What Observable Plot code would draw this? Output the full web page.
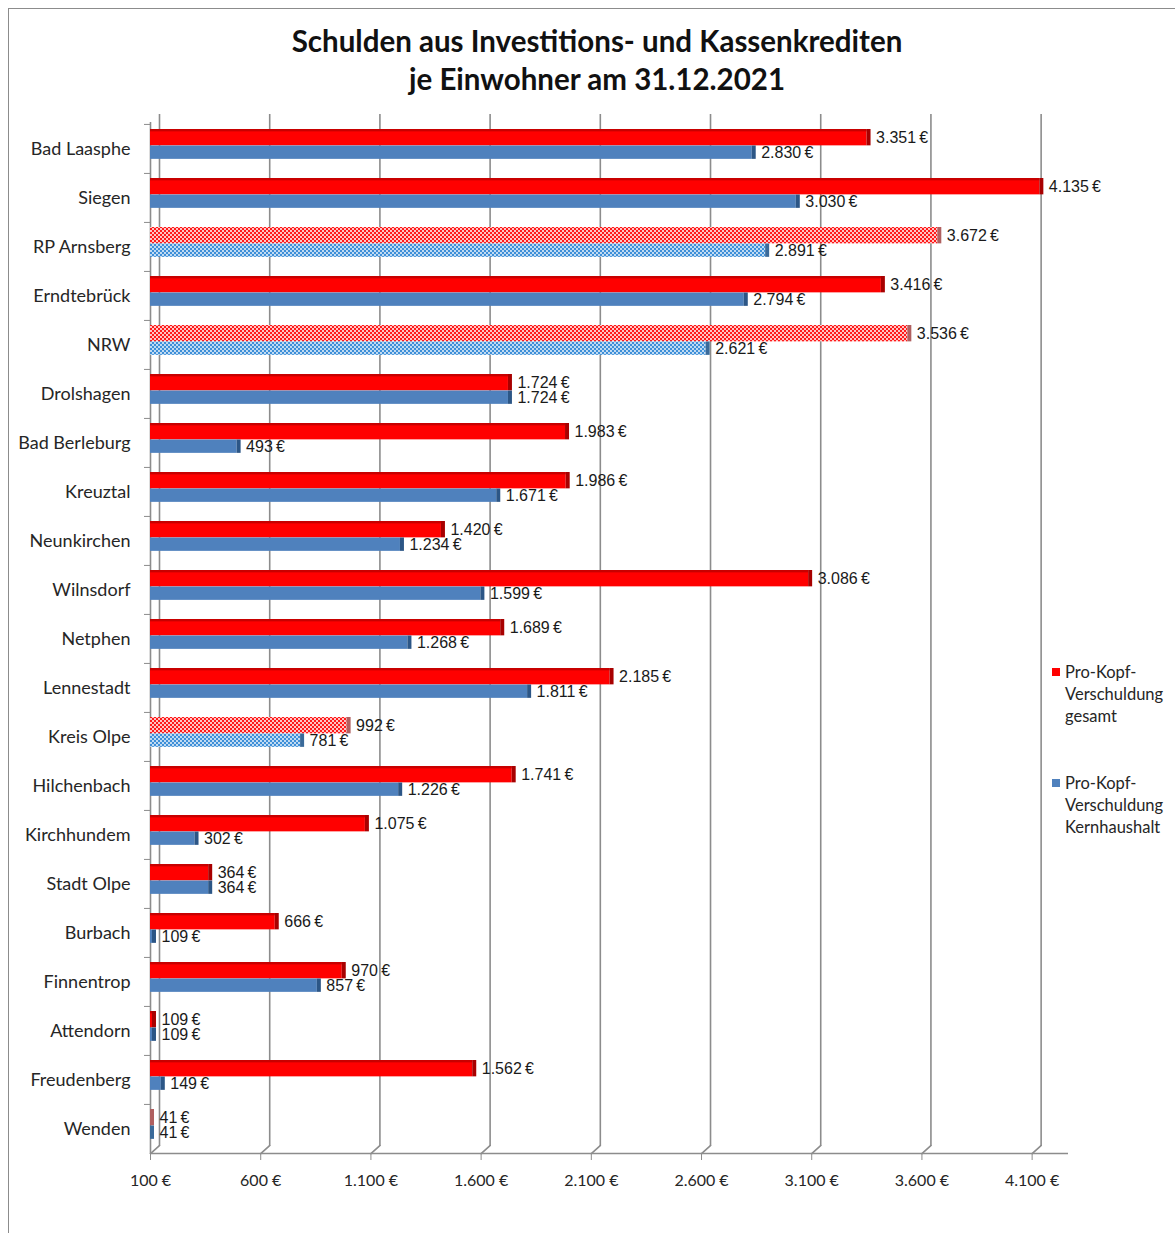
<!DOCTYPE html>
<html><head><meta charset="utf-8">
<script src="https://cdn.jsdelivr.net/npm/d3@7"></script>
<script src="https://cdn.jsdelivr.net/npm/@observablehq/plot@0.6"></script>
<style>
html,body{margin:0;padding:0;background:#fff;}
#wrap{position:relative;width:1175px;height:1233px;overflow:hidden;background:#fff;}
#frame{position:absolute;left:8px;top:8px;width:1180px;height:1240px;border-left:1.5px solid #8c8c8c;border-top:1.5px solid #8c8c8c;}
#title{position:absolute;left:0;top:22px;width:1194px;text-align:center;font-family:Lato,"Open Sans",sans-serif;font-weight:bold;font-size:29.5px;line-height:38px;color:#111;}
#chart{position:absolute;left:0;top:0;}
.legtxt{position:absolute;left:1065px;font-family:Lato,"Open Sans",sans-serif;font-size:16.5px;line-height:22px;color:#262626;}
.sw{position:absolute;left:1052px;width:8px;height:8px;}
</style></head>
<body>
<div id="wrap">
  <div id="frame"></div>
  <div id="chart"></div>
  <div id="title">Schulden aus Investitions- und Kassenkrediten<br>je Einwohner am 31.12.2021</div>
  <div class="sw" style="top:668px;background:#ff0000"></div>
  <div class="legtxt" style="top:661px">Pro-Kopf-<br>Verschuldung<br>gesamt</div>
  <div class="sw" style="top:779px;background:#4f81bd"></div>
  <div class="legtxt" style="top:772px">Pro-Kopf-<br>Verschuldung<br>Kernhaushalt</div>
</div>
<script>
const categories = ["Bad Laasphe","Siegen","RP Arnsberg","Erndtebrück","NRW","Drolshagen","Bad Berleburg","Kreuztal","Neunkirchen","Wilnsdorf","Netphen","Lennestadt","Kreis Olpe","Hilchenbach","Kirchhundem","Stadt Olpe","Burbach","Finnentrop","Attendorn","Freudenberg","Wenden"];
const gesamt = [3351,4135,3672,3416,3536,1724,1983,1986,1420,3086,1689,2185,992,1741,1075,364,666,970,109,1562,41];
const kern   = [2830,3030,2891,2794,2621,1724,493,1671,1234,1599,1268,1811,781,1226,302,364,109,857,109,149,41];
const patterned = ["RP Arnsberg","NRW","Kreis Olpe","Wenden"];
const xTicks = [100,600,1100,1600,2100,2600,3100,3600,4100];
const seriesNames = ["Pro-Kopf-Verschuldung gesamt","Pro-Kopf-Verschuldung Kernhaushalt"];

const rows = categories.map((c,i)=>({cat:c, gesamt:gesamt[i], kern:kern[i], pat:patterned.includes(c)}));
const solid = rows.filter(d=>!d.pat);
const pat = rows.filter(d=>d.pat);
const thou = d3.format(",");
const fmtVal = v => thou(v).replace(/,/g,".") + "\u2009€";
const fmtTick = v => thou(v).replace(/,/g,".") + " €";
const lastCat = categories[categories.length-1];

const step = (1154-122)/categories.length;
const half = step/2;
const redTop = 5, split = 21.5, blueBot = 35;

const valFont = "'Liberation Sans', Arial, sans-serif";
const grid = "#8c8c8c";

const lineShape = {draw(ctx, l){ ctx.moveTo(0,0); ctx.lineTo(0,-l); }};

const chart = Plot.plot({
  width: 1175,
  height: 1233,
  marginTop: 122,
  marginBottom: 79,
  marginLeft: 150,
  marginRight: 107,
  style: {fontFamily: "Lato, 'Open Sans', sans-serif", background: "transparent", color: "#262626"},
  x: {domain: [100, 4265], clamp: true},
  y: {domain: categories, padding: 0},
  marks: [
    Plot.ruleX(xTicks, {dx: 9, dy: -8, stroke: grid, strokeWidth: 1.6}),
    Plot.vector(xTicks, {x: d=>d, y: ()=>lastCat, dy: half, length: 12, rotate: 48, anchor: "start", shape: lineShape, stroke: grid, strokeWidth: 1.6}),
    Plot.ruleX([100], {stroke: grid, strokeWidth: 1.6}),
    Plot.ruleY([lastCat], {dy: half, stroke: grid, strokeWidth: 1.6}),
    // red solid
    Plot.barX(solid, {x1: ()=>100, x2: "gesamt", y: "cat", insetTop: redTop, insetBottom: step-split, fill: "#ff0000"}),
    Plot.barX(solid, {x1: ()=>100, x2: "gesamt", y: "cat", insetTop: redTop, insetBottom: step-redTop-2.5, fill: "#c80000"}),
    Plot.barX(solid, {x1: "gesamt", x2: "gesamt", y: "cat", insetTop: redTop, insetBottom: step-split, insetRight: -4, fill: "#a80000"}),
    // blue solid
    Plot.barX(solid, {x1: ()=>100, x2: "kern", y: "cat", insetTop: split, insetBottom: step-blueBot, fill: "#4f81bd"}),
    Plot.barX(solid, {x1: "kern", x2: "kern", y: "cat", insetTop: split, insetBottom: step-blueBot, insetRight: -4, fill: "#2c5686"}),
    // patterned
    Plot.barX(pat, {x1: ()=>100, x2: "gesamt", y: "cat", insetTop: redTop, insetBottom: step-split, fill: "url(#redPat)"}),
    Plot.barX(pat, {x1: "gesamt", x2: "gesamt", y: "cat", insetTop: redTop, insetBottom: step-split, insetRight: -4, fill: "#b06060"}),
    Plot.barX(pat, {x1: ()=>100, x2: "kern", y: "cat", insetTop: split, insetBottom: step-blueBot, fill: "url(#bluePat)"}),
    Plot.barX(pat, {x1: "kern", x2: "kern", y: "cat", insetTop: split, insetBottom: step-blueBot, insetRight: -4, fill: "#3a6a9a"}),
    // labels
    Plot.text(rows, {x: "gesamt", y: "cat", text: d=>fmtVal(d.gesamt), dx: 9, dy: -(half-(redTop+split)/2), textAnchor: "start", fontSize: 16, fontFamily: valFont, fill: "#1a1a1a"}),
    Plot.text(rows, {x: "kern", y: "cat", text: d=>fmtVal(d.kern), dx: 9, dy: (split+blueBot)/2-half, textAnchor: "start", fontSize: 16, fontFamily: valFont, fill: "#1a1a1a"}),
    // axes
    Plot.axisY({tickSize: 0, tickPadding: 20, fontSize: 18, label: null, fill: "#262626"}),
    Plot.axisY({tickSize: 6, tickFormat: ()=>"", dy: -half, label: null, stroke: grid}),
    Plot.axisX({ticks: xTicks, tickFormat: fmtTick, tickSize: 6, tickPadding: 14, fontSize: 16, label: null, stroke: grid, fill: "#262626"})
  ]
});

const svg = d3.select(chart);
const defs = svg.insert("defs", ":first-child");
const rp = defs.append("pattern").attr("id","redPat").attr("patternUnits","userSpaceOnUse").attr("width",4).attr("height",4);
rp.append("rect").attr("width",4).attr("height",4).attr("fill","#ff1a1a");
rp.append("circle").attr("cx",1).attr("cy",1).attr("r",1).attr("fill","#ffffff");
rp.append("circle").attr("cx",3).attr("cy",3).attr("r",1).attr("fill","#ffffff");
const bp = defs.append("pattern").attr("id","bluePat").attr("patternUnits","userSpaceOnUse").attr("width",4).attr("height",4);
bp.append("rect").attr("width",4).attr("height",4).attr("fill","#3d8fd8");
bp.append("circle").attr("cx",1).attr("cy",1).attr("r",0.9).attr("fill","#ffffff");
bp.append("circle").attr("cx",3).attr("cy",3).attr("r",0.9).attr("fill","#ffffff");

document.getElementById("chart").appendChild(chart);
</script>
</body></html>
